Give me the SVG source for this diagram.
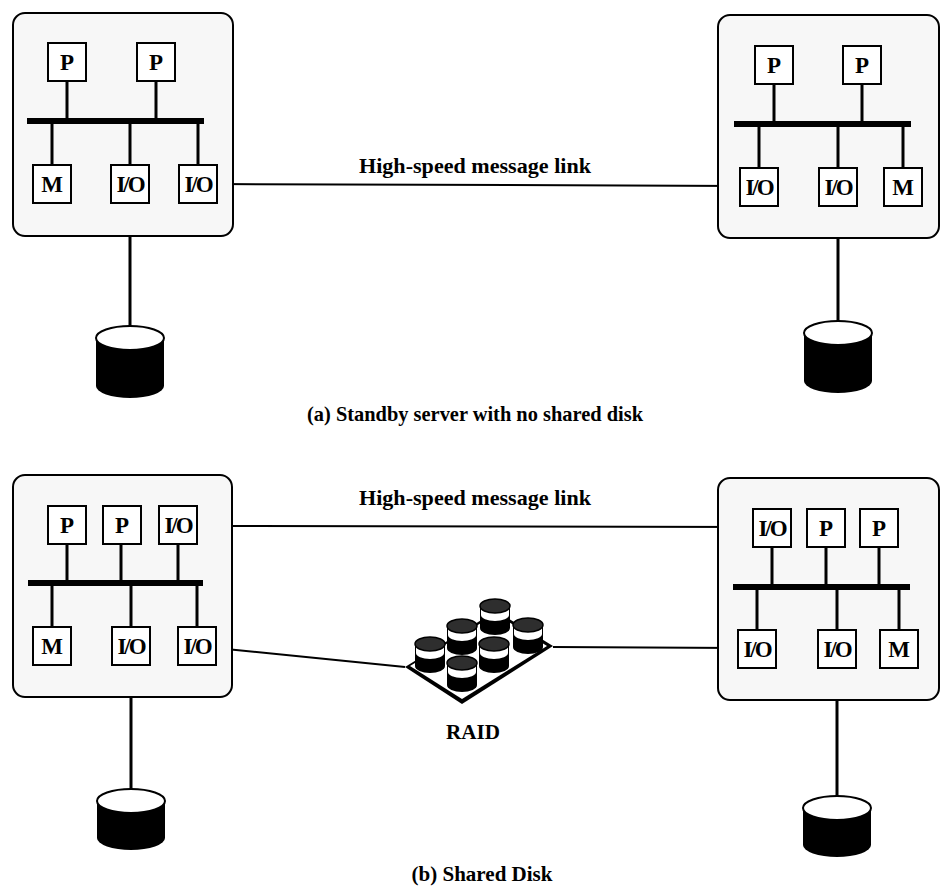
<svg xmlns="http://www.w3.org/2000/svg" width="942" height="893" viewBox="0 0 942 893">
  <style>
    .server { fill: #f7f7f7; stroke: #000; stroke-width: 2; }
    .box { fill: #fff; stroke: #000; stroke-width: 2; }
    .lbl { font-family: "Liberation Serif", "Times New Roman", serif; font-weight: bold; font-size: 23px; text-anchor: middle; fill: #000; }
    .io { letter-spacing: -2px; }
    .stem { stroke: #000; stroke-width: 3; fill: none; }
    .bus { stroke: #000; stroke-width: 6; fill: none; }
    .link { stroke: #000; stroke-width: 2; fill: none; }
    .cap { font-family: "Liberation Serif", "Times New Roman", serif; font-weight: bold; font-size: 21px; text-anchor: middle; fill: #000; }
    .disk-body { fill: #000; }
    .disk-top { fill: #fff; stroke: #000; stroke-width: 2; }
    .rd-top { fill: #2e2e2e; stroke: #000; stroke-width: 1.5; }
    .rd-band { fill: #fff; }
  </style>
  <defs>
    <!-- small drive used inside the RAID array, origin at the top-ellipse centre -->
    <g id="raid-drive">
      <path class="disk-body" d="M-15,0 L-15,22 A15,7 0 0 0 15,22 L15,0 Z"/>
      <path class="rd-band" d="M-14,0 A14,6 0 0 0 14,0 L14,9 A14,6 0 0 1 -14,9 Z"/>
      <ellipse class="rd-top" cx="0" cy="0" rx="15" ry="7"/>
    </g>
  </defs>

  <!-- ===== (a) Standby server with no shared disk ===== -->
  <g id="connectors-a">
    <line class="link" x1="217" y1="184" x2="740" y2="186"/>
    <line class="stem" x1="130" y1="203" x2="130" y2="330"/>
    <line class="stem" x1="838" y1="206" x2="838" y2="325"/>
  </g>

  <g id="server-a-left">
    <rect class="server" x="13" y="13" width="220" height="223" rx="12"/>
    <line class="stem" x1="67" y1="81" x2="67" y2="121"/>
    <line class="stem" x1="156" y1="81" x2="156" y2="121"/>
    <line class="stem" x1="52" y1="121" x2="52" y2="165"/>
    <line class="stem" x1="130" y1="121" x2="130" y2="165"/>
    <line class="stem" x1="198" y1="121" x2="198" y2="165"/>
    <line class="bus" x1="27" y1="121" x2="204" y2="121"/>
    <rect class="box" x="48" y="43" width="38" height="38"/><text class="lbl" x="67" y="70">P</text>
    <rect class="box" x="137" y="43" width="38" height="38"/><text class="lbl" x="156" y="70">P</text>
    <rect class="box" x="33" y="165" width="38" height="38"/><text class="lbl" x="52" y="192">M</text>
    <rect class="box" x="111" y="165" width="38" height="38"/><text class="lbl io" x="130" y="192">I/O</text>
    <rect class="box" x="179" y="165" width="38" height="38"/><text class="lbl io" x="198" y="192">I/O</text>
  </g>

  <g id="server-a-right">
    <rect class="server" x="718" y="15" width="221" height="223" rx="12"/>
    <line class="stem" x1="774" y1="84" x2="774" y2="124"/>
    <line class="stem" x1="862" y1="84" x2="862" y2="124"/>
    <line class="stem" x1="759" y1="124" x2="759" y2="168"/>
    <line class="stem" x1="838" y1="124" x2="838" y2="168"/>
    <line class="stem" x1="903" y1="124" x2="903" y2="168"/>
    <line class="bus" x1="734" y1="124" x2="911" y2="124"/>
    <rect class="box" x="755" y="46" width="38" height="38"/><text class="lbl" x="774" y="73">P</text>
    <rect class="box" x="843" y="46" width="38" height="38"/><text class="lbl" x="862" y="73">P</text>
    <rect class="box" x="740" y="168" width="38" height="38"/><text class="lbl io" x="759" y="195">I/O</text>
    <rect class="box" x="819" y="168" width="38" height="38"/><text class="lbl io" x="838" y="195">I/O</text>
    <rect class="box" x="884" y="168" width="38" height="38"/><text class="lbl" x="903" y="195">M</text>
  </g>

  <g id="disk-a-left">
    <path class="disk-body" d="M96,338 L96,386 A34,12 0 0 0 164,386 L164,338 Z"/>
    <ellipse class="disk-top" cx="130" cy="338" rx="34" ry="12"/>
  </g>
  <g id="disk-a-right">
    <path class="disk-body" d="M804,333 L804,381 A34,12 0 0 0 872,381 L872,333 Z"/>
    <ellipse class="disk-top" cx="838" cy="333" rx="34" ry="12"/>
  </g>

  <text class="cap" x="475" y="173" textLength="232" lengthAdjust="spacingAndGlyphs">High-speed message link</text>
  <text class="cap" x="475" y="421" textLength="336" lengthAdjust="spacingAndGlyphs">(a) Standby server with no shared disk</text>

  <!-- ===== (b) Shared Disk ===== -->
  <g id="connectors-b">
    <line class="link" x1="197" y1="526" x2="753" y2="527"/>
    <line class="link" x1="216" y1="648" x2="405" y2="667"/>
    <line class="link" x1="553" y1="647" x2="739" y2="648"/>
    <line class="stem" x1="131" y1="665" x2="131" y2="795"/>
    <line class="stem" x1="837" y1="668" x2="837" y2="800"/>
  </g>

  <g id="server-b-left">
    <rect class="server" x="13" y="475" width="219" height="222" rx="12"/>
    <line class="stem" x1="67" y1="544" x2="67" y2="583"/>
    <line class="stem" x1="121" y1="544" x2="121" y2="583"/>
    <line class="stem" x1="178" y1="544" x2="178" y2="583"/>
    <line class="stem" x1="52" y1="583" x2="52" y2="627"/>
    <line class="stem" x1="131" y1="583" x2="131" y2="627"/>
    <line class="stem" x1="197" y1="583" x2="197" y2="627"/>
    <line class="bus" x1="28" y1="583" x2="203" y2="583"/>
    <rect class="box" x="48" y="506" width="38" height="38"/><text class="lbl" x="67" y="533">P</text>
    <rect class="box" x="103" y="506" width="38" height="38"/><text class="lbl" x="122" y="533">P</text>
    <rect class="box" x="159" y="506" width="38" height="38"/><text class="lbl io" x="178" y="533">I/O</text>
    <rect class="box" x="33" y="627" width="38" height="38"/><text class="lbl" x="52" y="654">M</text>
    <rect class="box" x="112" y="627" width="38" height="38"/><text class="lbl io" x="131" y="654">I/O</text>
    <rect class="box" x="178" y="627" width="38" height="38"/><text class="lbl io" x="197" y="654">I/O</text>
  </g>

  <g id="server-b-right">
    <rect class="server" x="718" y="478" width="221" height="222" rx="12"/>
    <line class="stem" x1="772" y1="547" x2="772" y2="587"/>
    <line class="stem" x1="826" y1="547" x2="826" y2="587"/>
    <line class="stem" x1="879" y1="547" x2="879" y2="587"/>
    <line class="stem" x1="757" y1="587" x2="757" y2="630"/>
    <line class="stem" x1="837" y1="587" x2="837" y2="630"/>
    <line class="stem" x1="899" y1="587" x2="899" y2="630"/>
    <line class="bus" x1="733" y1="587" x2="910" y2="587"/>
    <rect class="box" x="753" y="509" width="38" height="38"/><text class="lbl io" x="772" y="536">I/O</text>
    <rect class="box" x="807" y="509" width="38" height="38"/><text class="lbl" x="826" y="536">P</text>
    <rect class="box" x="860" y="509" width="38" height="38"/><text class="lbl" x="879" y="536">P</text>
    <rect class="box" x="738" y="630" width="38" height="38"/><text class="lbl io" x="757" y="657">I/O</text>
    <rect class="box" x="818" y="630" width="38" height="38"/><text class="lbl io" x="837" y="657">I/O</text>
    <rect class="box" x="880" y="630" width="38" height="38"/><text class="lbl" x="899" y="657">M</text>
  </g>

  <g id="disk-b-left">
    <path class="disk-body" d="M97,801 L97,838 A34,12 0 0 0 165,838 L165,801 Z"/>
    <ellipse class="disk-top" cx="131" cy="801" rx="34" ry="12"/>
  </g>
  <g id="disk-b-right">
    <path class="disk-body" d="M803,808 L803,845 A34,12 0 0 0 871,845 L871,808 Z"/>
    <ellipse class="disk-top" cx="837" cy="808" rx="34" ry="12"/>
  </g>

  <g id="raid">
    <!-- base plate with a little thickness -->
    <polygon points="405,667 462,704 553,646 496,611" fill="#000"/>
    <polygon points="410,666 462,699 547,646 496,614" fill="#fff"/>
    <!-- drives, back to front -->
    <use href="#raid-drive" x="495" y="606"/>
    <use href="#raid-drive" x="462" y="626"/>
    <use href="#raid-drive" x="528" y="625"/>
    <use href="#raid-drive" x="430" y="644"/>
    <use href="#raid-drive" x="494" y="644"/>
    <use href="#raid-drive" x="462" y="663"/>
  </g>
  <text class="cap" x="473" y="739" textLength="54" lengthAdjust="spacingAndGlyphs">RAID</text>

  <text class="cap" x="475" y="505" textLength="232" lengthAdjust="spacingAndGlyphs">High-speed message link</text>
  <text class="cap" x="482" y="881" textLength="141" lengthAdjust="spacingAndGlyphs">(b) Shared Disk</text>
</svg>
